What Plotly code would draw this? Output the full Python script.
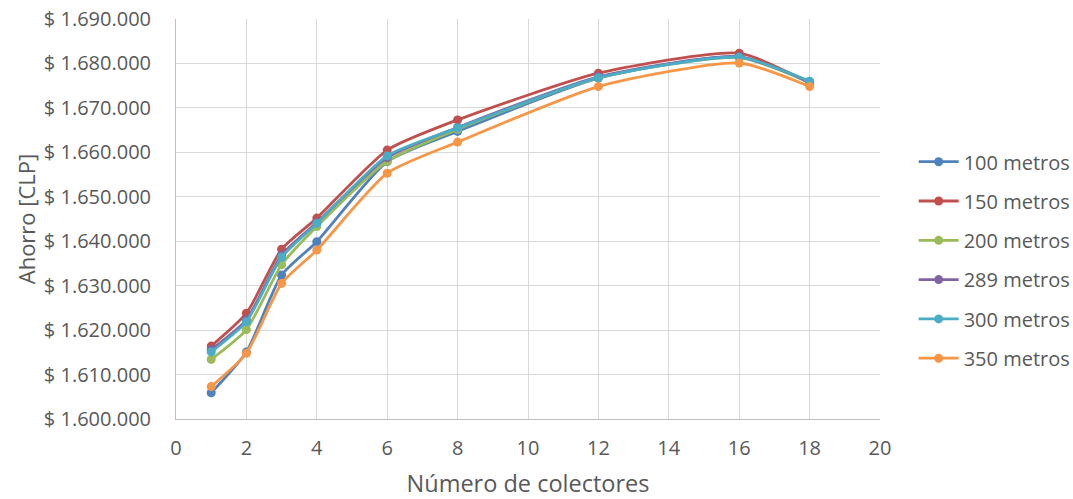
import plotly.graph_objects as go

x_vals = [1, 2, 3, 4, 6, 8, 12, 16, 18]
series_names = ["100 metros", "150 metros", "200 metros", "289 metros", "300 metros", "350 metros"]
s100 = [1605900, 1615100, 1632400, 1639900, 1657900, 1664700, 1676700, 1681500, 1675900]
s150 = [1616400, 1623800, 1638200, 1645200, 1660500, 1667300, 1677800, 1682300, 1675600]
s200 = [1613400, 1620100, 1634700, 1643300, 1658000, 1665200, 1676800, 1681300, 1675700]
s289 = [1615600, 1622300, 1636900, 1644200, 1658800, 1665600, 1677000, 1681500, 1675800]
s300 = [1615100, 1621900, 1636400, 1644000, 1659200, 1665500, 1676800, 1681400, 1676000]
s350 = [1607300, 1614800, 1630500, 1638000, 1655300, 1662300, 1674800, 1680100, 1674800]
colors = ["#4F81BD", "#C0504D", "#9BBB59", "#8064A2", "#4BACC6", "#F79646"]

y_ticks = list(range(1600000, 1690001, 10000))
y_ticktext = ["$ " + f"{v:,}".replace(",", ".") for v in y_ticks]

fig = go.Figure()
for name, ys, c in zip(series_names, [s100, s150, s200, s289, s300, s350], colors):
    fig.add_trace(go.Scatter(
        x=x_vals, y=ys, name=name, mode="lines+markers",
        line=dict(color=c, width=2.8, shape="spline", smoothing=0.6),
        marker=dict(color=c, size=9),
        legendgroup=name,
    ))

font_family = "Open Sans, Liberation Sans, sans-serif"
fig.update_layout(
    width=1073, height=499, autosize=False,
    margin=dict(l=176, r=193, t=19, b=80),
    paper_bgcolor="white", plot_bgcolor="white",
    font=dict(family=font_family, color="#595959", size=20),
    legend=dict(xref="container", yref="container", x=0.8515, y=0.715,
                xanchor="left", yanchor="top",
                font=dict(size=20, color="#595959"),
                tracegroupgap=10.3, itemwidth=40),
    xaxis=dict(range=[0, 20], tickvals=list(range(0, 21, 2)),
               showgrid=True, gridcolor="#D9D9D9", gridwidth=1,
               showline=True, linecolor="#BFBFBF", zeroline=False,
               ticks="", tickfont=dict(size=20), automargin=False,
               ticklabelstandoff=11,
               title=dict(text="Número de colectores", font=dict(size=23.5), standoff=22)),
    yaxis=dict(range=[1600000, 1690000], tickvals=y_ticks, ticktext=y_ticktext,
               showgrid=True, gridcolor="#D9D9D9", gridwidth=1,
               showline=True, linecolor="#BFBFBF", zeroline=False,
               ticks="", tickfont=dict(size=20), automargin=False,
               ticklabelstandoff=20,
               title=dict(text="Ahorro [CLP]", font=dict(size=22), standoff=2)),
)

fig.write_html(
    "out.html",
    config={"responsive": False, "displayModeBar": False},
    post_script="document.body.style.margin='0';document.body.style.overflow='hidden';",
)
